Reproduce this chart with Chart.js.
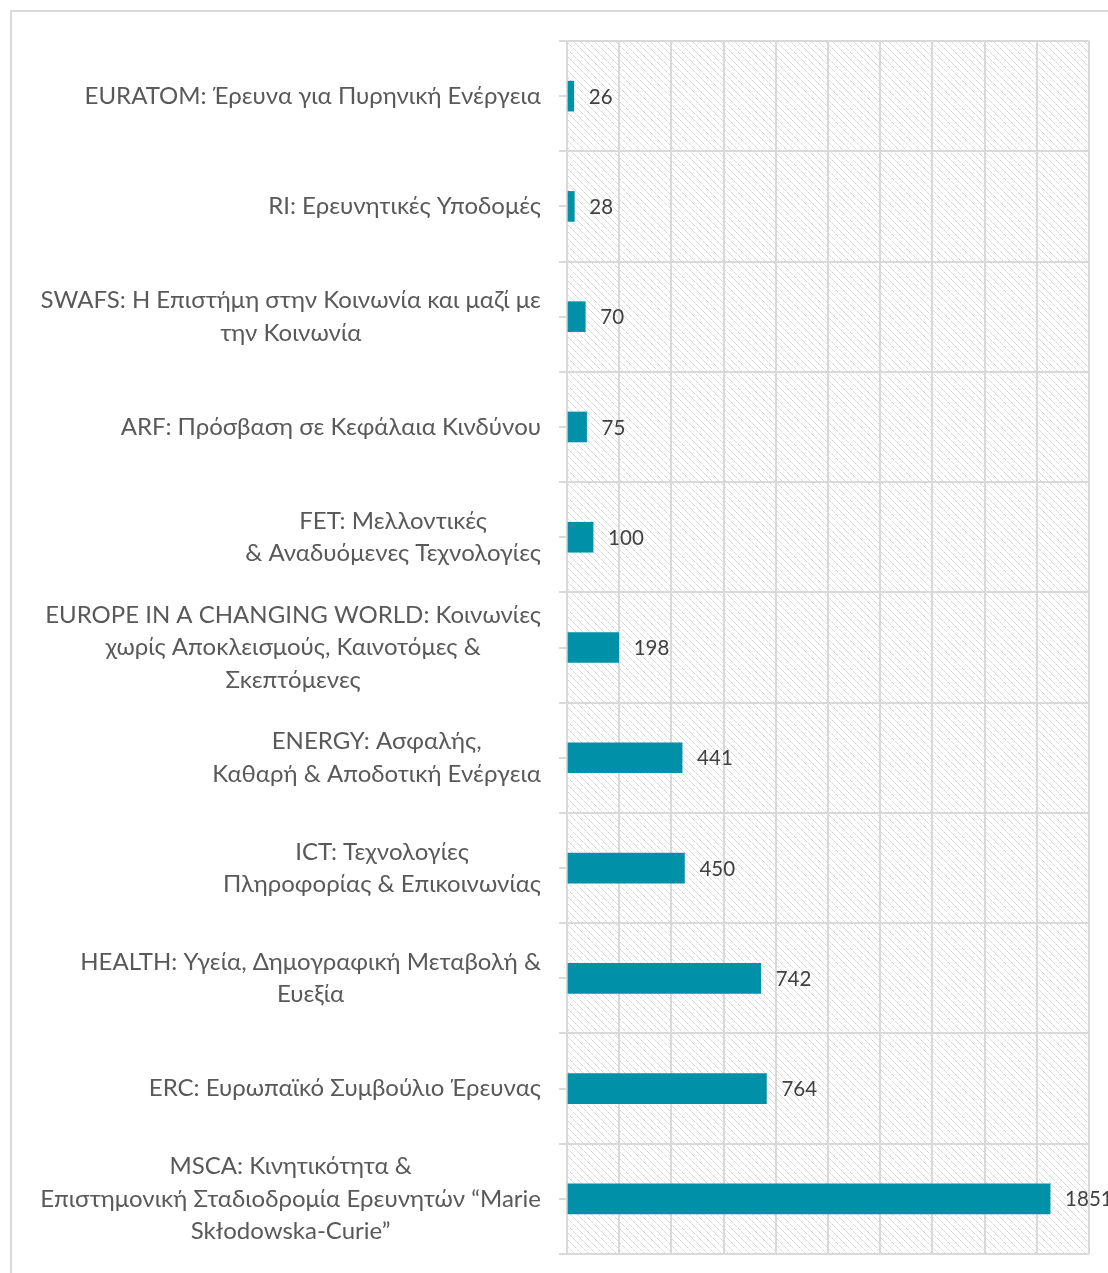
<!DOCTYPE html>
<html>
<head>
<meta charset="utf-8">
<script src="https://cdn.jsdelivr.net/npm/chart.js@4/dist/chart.umd.min.js"></script>
<style>
  html, body { margin: 0; padding: 0; background: #fff; }
  #wrap { width: 1108px; height: 1273px; position: relative; }
</style>
</head>
<body>
<div id="wrap"><canvas id="barChart"></canvas></div>
<script>
// Categories (each entry = lines of the label)
const categories = [
  ["EURATOM: Έρευνα για Πυρηνική Ενέργεια"],
  ["RI: Ερευνητικές Υποδομές"],
  ["SWAFS: Η Επιστήμη στην Κοινωνία και μαζί με", "την Κοινωνία"],
  ["ARF: Πρόσβαση σε Κεφάλαια Κινδύνου"],
  ["FET: Μελλοντικές", "& Αναδυόμενες Τεχνολογίες"],
  ["EUROPE IN A CHANGING WORLD: Κοινωνίες", "χωρίς Αποκλεισμούς, Καινοτόμες &", "Σκεπτόμενες"],
  ["ENERGY: Ασφαλής,", "Καθαρή & Αποδοτική Ενέργεια"],
  ["ICT: Τεχνολογίες", "Πληροφορίας & Επικοινωνίας"],
  ["HEALTH: Υγεία, Δημογραφική Μεταβολή &", "Ευεξία"],
  ["ERC: Ευρωπαϊκό Συμβούλιο Έρευνας"],
  ["MSCA: Κινητικότητα &", "Επιστημονική Σταδιοδρομία Ερευνητών “Marie", "Skłodowska-Curie”"]
];

// Series values
const values = [26, 28, 70, 75, 100, 198, 441, 450, 742, 764, 1851];

// Value axis range
const xMin = 0;
const xMax = 2000;
const xStep = 200;

const barColor = "#0090A7";
const gridColor = "#D9D9D9";
const labelFont = "24px Lato, 'Noto Sans', sans-serif";
const valueFont = "20.5px Lato, 'Noto Sans', sans-serif";

// diagonal hatch for the plot area
const makeHatch = (ctx) => {
  const tile = document.createElement("canvas");
  tile.width = 7;
  tile.height = 7;
  const t = tile.getContext("2d");
  t.fillStyle = "#fff";
  t.fillRect(0, 0, 7, 7);
  for (let i = 0; i < 7; i++) {
    t.fillStyle = i % 3 === 2 ? "#EDEDED" : "#D8D8D8";
    t.fillRect(i, i, 1, 1);
  }
  return ctx.createPattern(tile, "repeat");
};

const hatchPlugin = {
  id: "hatch",
  beforeDraw(chart) {
    const { ctx, chartArea } = chart;
    ctx.save();
    // outer frame
    ctx.strokeStyle = gridColor;
    ctx.lineWidth = 2;
    ctx.strokeRect(11, 11, chart.width + 20, chart.height + 20);
    ctx.fillStyle = makeHatch(ctx);
    ctx.fillRect(chartArea.left, chartArea.top, chartArea.right - chartArea.left, chartArea.bottom - chartArea.top);
    ctx.restore();
  },
};

const labelsPlugin = {
  id: "labels",
  afterDraw(chart) {
    const { ctx, chartArea } = chart;
    const yScale = chart.scales.y;
    const lineH = 32.5;
    ctx.save();
    // small tick marks at category centres
    ctx.strokeStyle = gridColor;
    ctx.lineWidth = 2;
    categories.forEach((lines, i) => {
      const y = Math.round(yScale.getPixelForTick(i));
      ctx.beginPath();
      ctx.moveTo(chartArea.left - 8, y);
      ctx.lineTo(chartArea.left, y);
      ctx.stroke();
    });
    // category labels: block right aligned, lines centred inside the block
    ctx.font = labelFont;
    ctx.fillStyle = "#595959";
    ctx.textAlign = "center";
    ctx.textBaseline = "middle";
    const right = chartArea.left - 26;
    categories.forEach((lines, i) => {
      const y = yScale.getPixelForTick(i);
      const w = Math.max(...lines.map((l) => ctx.measureText(l).width));
      const cx = right - w / 2;
      lines.forEach((line, j) => {
        ctx.fillText(line, cx, y + (j - (lines.length - 1) / 2) * lineH);
      });
    });
    // value labels at bar ends
    ctx.font = valueFont;
    ctx.fillStyle = "#404040";
    ctx.textAlign = "left";
    const meta = chart.getDatasetMeta(0);
    meta.data.forEach((bar, i) => {
      ctx.fillText(String(values[i]), bar.x + 15, bar.y + 1);
    });
    ctx.restore();
  },
};

new Chart(document.getElementById("barChart"), {
  type: "bar",
  data: {
    labels: categories,
    datasets: [
      {
        data: values,
        backgroundColor: barColor,
        borderWidth: 0,
        barThickness: 30,
      },
    ],
  },
  options: {
    indexAxis: "y",
    responsive: true,
    maintainAspectRatio: false,
    animation: false,
    layout: {
      padding: { top: 41, right: 19, bottom: 19, left: 0 },
    },
    plugins: {
      legend: { display: false },
      tooltip: { enabled: false },
    },
    scales: {
      x: {
        min: xMin,
        max: xMax,
        ticks: { display: false, stepSize: xStep },
        grid: { color: gridColor, lineWidth: 2, drawTicks: false },
        border: { display: false },
      },
      y: {
        ticks: { display: false },
        grid: { color: gridColor, lineWidth: 2, offset: true, tickLength: 8 },
        border: { display: false },
        afterFit(scale) {
          scale.width = 567;
        },
      },
    },
  },
  plugins: [hatchPlugin, labelsPlugin],
});
</script>
</body>
</html>
